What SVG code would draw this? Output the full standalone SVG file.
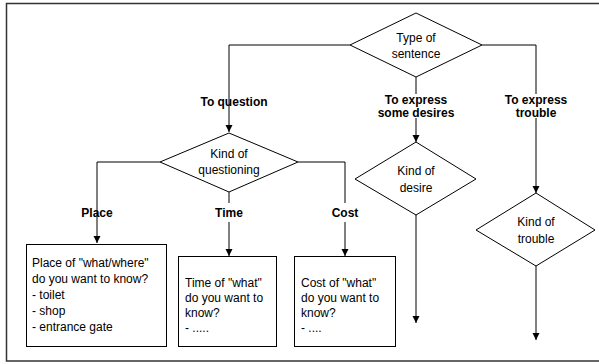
<svg xmlns="http://www.w3.org/2000/svg" width="599" height="364" viewBox="0 0 599 364">
  <defs>
    <marker id="arrow" viewBox="0 0 10 10" refX="10" refY="5" markerWidth="7" markerHeight="9" markerUnits="userSpaceOnUse" orient="auto">
      <path d="M0,0 L10,5 L0,10 Z" fill="#000"/>
    </marker>
    <style>
      .frame { fill: none; stroke: #333; stroke-width: 1.5; }
      .shape { fill: #fff; stroke: #000; stroke-width: 1; }
      .link { fill: none; stroke: #000; stroke-width: 1; }
      .arrow { marker-end: url(#arrow); }
      .t { font-family: "Liberation Sans", Arial, Helvetica, sans-serif; font-size: 12px; fill: #000; }
      .c { text-anchor: middle; }
      .b { font-weight: bold; }
    </style>
  </defs>

  <rect x="6.5" y="3.5" width="600" height="357.5" class="frame"/>

  <g id="connectors">
    <polyline class="link arrow" points="350,45 229,45 229,132"/>
    <polyline class="link" points="416,77 416,94"/>
    <polyline class="link arrow" points="416,118 416,142"/>
    <polyline class="link" points="482,45 536,45 536,94"/>
    <polyline class="link arrow" points="536,118 536,193"/>
    <polyline class="link arrow" points="160,162 97,162 97,243"/>
    <polyline class="link" points="229,192 229,203"/>
    <polyline class="link arrow" points="229,222 229,256"/>
    <polyline class="link" points="298,162 345,162 345,203"/>
    <polyline class="link arrow" points="345,222 345,256"/>
    <polyline class="link arrow" points="416,214 416,323"/>
    <polyline class="link arrow" points="536,266 536,340"/>
  </g>

  <g id="labels">
    <text class="t b c" x="234" y="106">To question</text>
    <text class="t b c" x="416" y="104">To express</text>
    <text class="t b c" x="416" y="117">some desires</text>
    <text class="t b c" x="536" y="104">To express</text>
    <text class="t b c" x="536" y="117">trouble</text>
    <text class="t b c" x="97" y="217">Place</text>
    <text class="t b c" x="229" y="217">Time</text>
    <text class="t b c" x="345" y="217">Cost</text>
  </g>

  <g id="type-of-sentence">
    <polygon class="shape" points="416,13 482,45 416,77 350,45"/>
    <text class="t c" x="416" y="42">Type of</text>
    <text class="t c" x="416" y="58">sentence</text>
  </g>

  <g id="kind-of-questioning">
    <polygon class="shape" points="229,133 298,162 229,192 160,162"/>
    <text class="t c" x="229" y="158">Kind of</text>
    <text class="t c" x="229" y="174">questioning</text>
  </g>

  <g id="kind-of-desire">
    <polygon class="shape" points="416,142 476,179 416,215 355,179"/>
    <text class="t c" x="416" y="175">Kind of</text>
    <text class="t c" x="416" y="192">desire</text>
  </g>

  <g id="kind-of-trouble">
    <polygon class="shape" points="536,193 595,230 536,266 476,230"/>
    <text class="t c" x="536" y="226">Kind of</text>
    <text class="t c" x="536" y="243">trouble</text>
  </g>

  <g id="place-box">
    <rect class="shape" x="26.5" y="244.5" width="140" height="102"/>
    <text class="t" x="32" y="267">Place of "what/where"</text>
    <text class="t" x="32" y="283">do you want to know?</text>
    <text class="t" x="32" y="299">- toilet</text>
    <text class="t" x="32" y="315">- shop</text>
    <text class="t" x="32" y="331">- entrance gate</text>
  </g>

  <g id="time-box">
    <rect class="shape" x="178.5" y="256.5" width="98" height="90"/>
    <text class="t" x="185" y="287">Time of "what"</text>
    <text class="t" x="185" y="302">do you want to</text>
    <text class="t" x="185" y="317">know?</text>
    <text class="t" x="185" y="332">- .....</text>
  </g>

  <g id="cost-box">
    <rect class="shape" x="294.5" y="256.5" width="101" height="90"/>
    <text class="t" x="301" y="287">Cost of "what"</text>
    <text class="t" x="301" y="302">do you want to</text>
    <text class="t" x="301" y="317">know?</text>
    <text class="t" x="301" y="332">- ....</text>
  </g>
</svg>
